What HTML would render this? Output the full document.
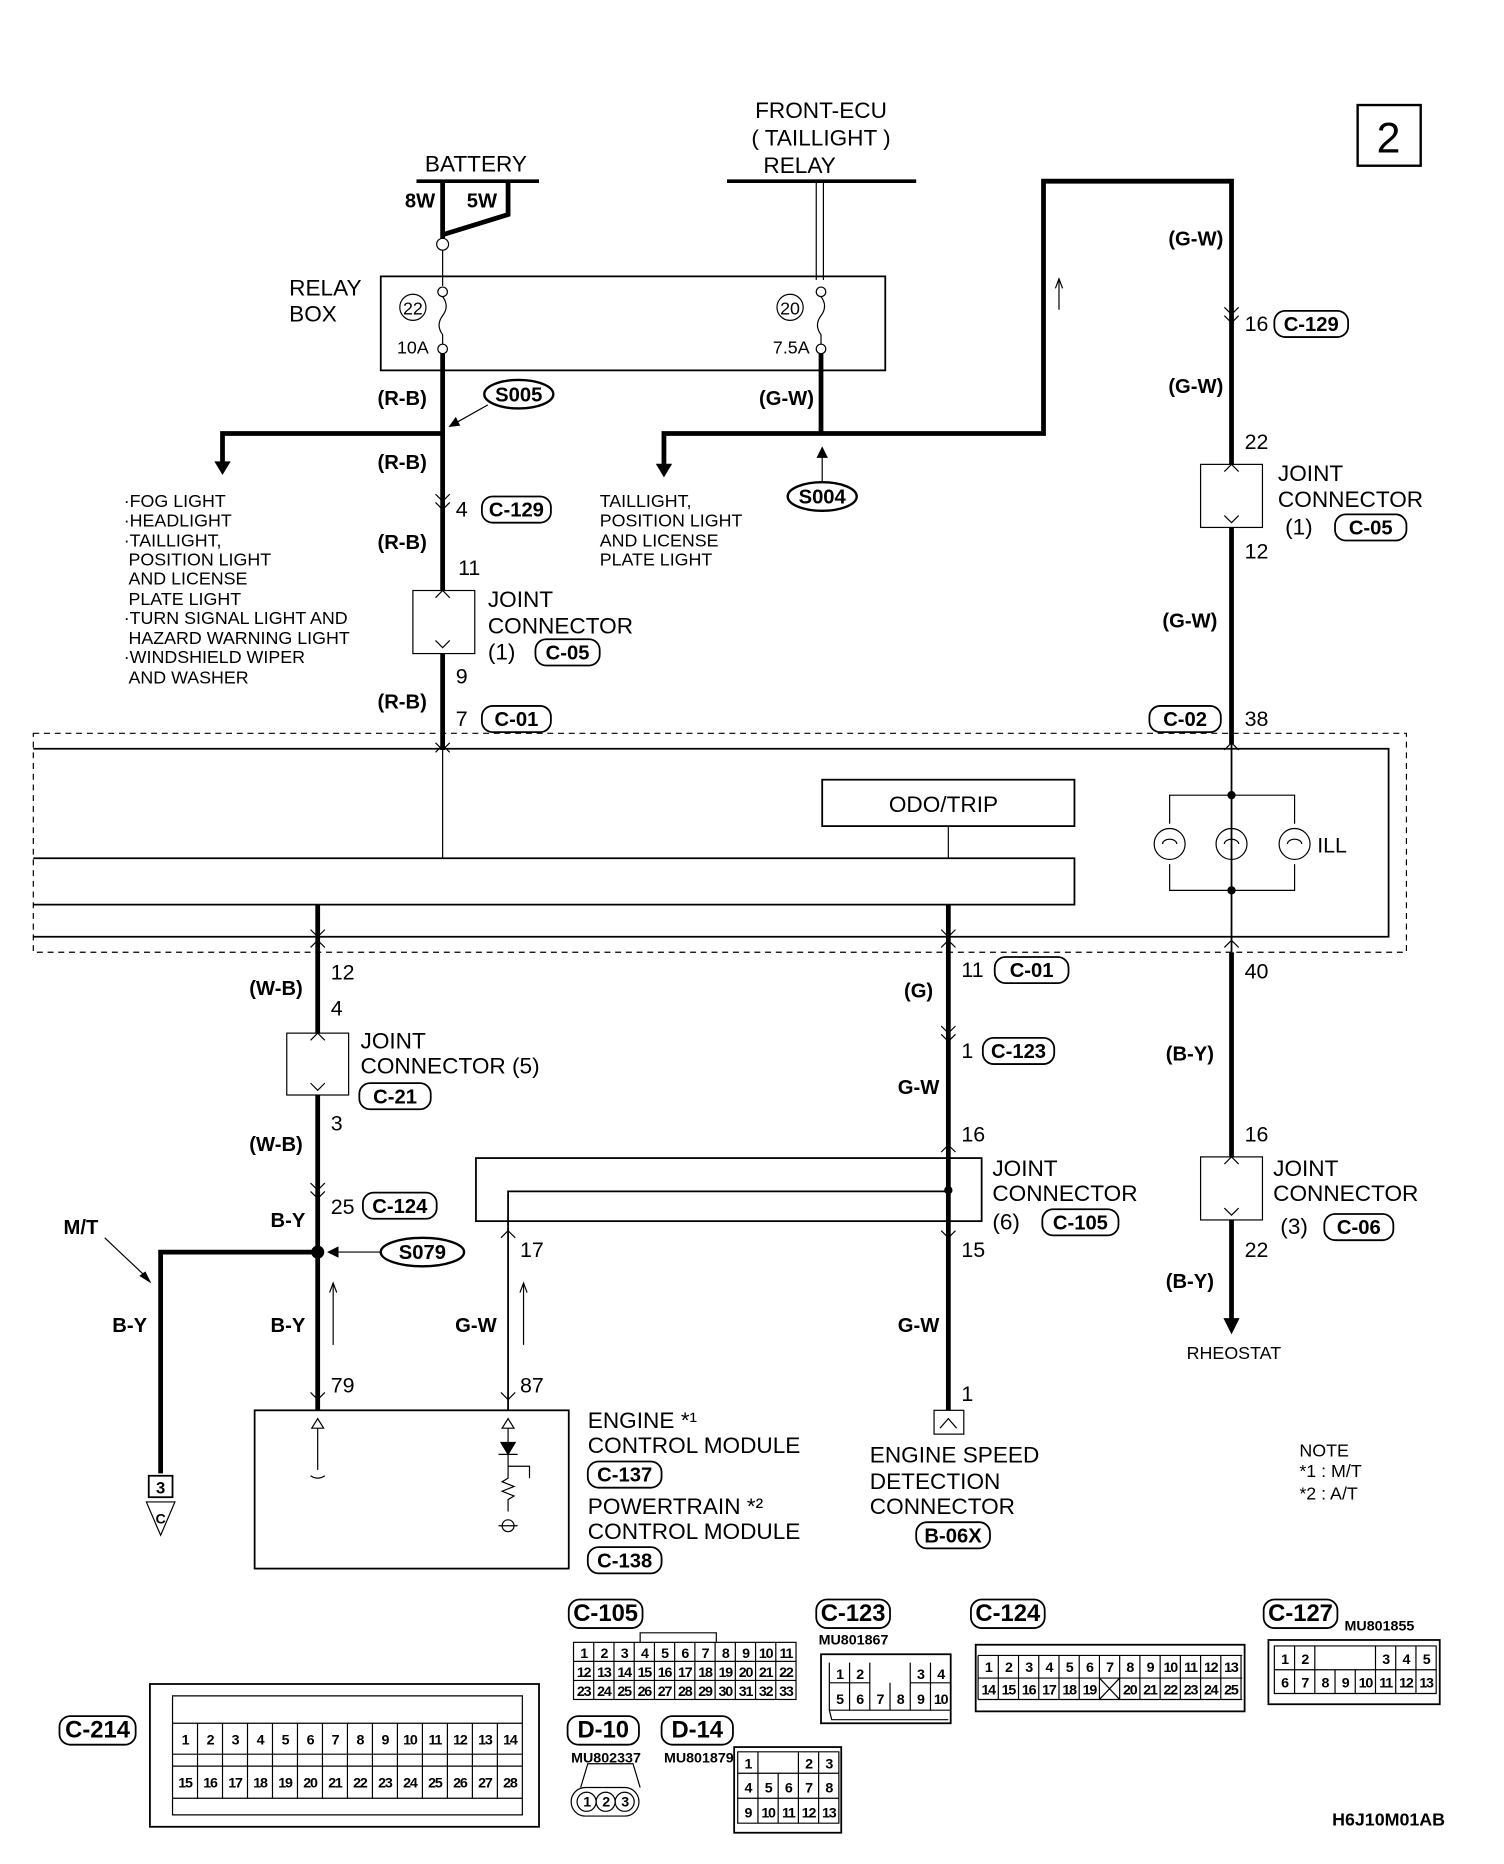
<!DOCTYPE html>
<html><head><meta charset="utf-8"><style>
html,body{margin:0;padding:0;background:#fff}
svg{display:block}
text{font-family:"Liberation Sans",sans-serif;fill:#000}
.t{font-size:19px}
.b{font-size:17px;font-weight:bold}
.s{font-size:15px}
.c{font-size:12px;font-weight:bold;letter-spacing:-1px}
.k{stroke:#000;fill:none}
</style></head><body>
<svg width="1504" height="1864" viewBox="0 0 1264 1566" xmlns="http://www.w3.org/2000/svg">
<g stroke="#000" fill="none">
<rect x="1141" y="88" width="53" height="51" stroke-width="2"/>
<line x1="350" y1="152" x2="453" y2="152" stroke-width="3"/>
<line x1="611" y1="152" x2="770" y2="152" stroke-width="3"/>
<polyline points="427,152 427,180 372,197" stroke-width="4"/>
<line x1="372" y1="152" x2="372" y2="200" stroke-width="4"/>
<line x1="686" y1="152" x2="686" y2="235"/><line x1="692" y1="152" x2="692" y2="235"/>
<rect x="320" y="232" width="424" height="79" stroke-width="1.5"/>
<line x1="372" y1="210" x2="372" y2="240"/>
<circle cx="372" cy="205" r="5"/><circle cx="372" cy="245" r="4"/><circle cx="372" cy="293" r="4"/>
<path d="M372 249 q6 8 0 16 q-6 8 0 16 l0 8"/>
<circle cx="690" cy="245" r="4"/><circle cx="690" cy="293" r="4"/>
<path d="M690 249 q6 8 0 16 q-6 8 0 16 l0 8"/>
<circle cx="347" cy="258" r="11"/><circle cx="664" cy="258" r="11"/>
<line x1="372" y1="297" x2="372" y2="630" stroke-width="4"/>
<polyline points="372,364 187,364 187,390" stroke-width="4"/>
<path d="M181 388 L187 398 L193 388 Z" fill="#000"/>
<line x1="410" y1="340" x2="378" y2="358"/><path d="M378 358 l8 -1 l-3 -6z" fill="#000"/>
<ellipse cx="436" cy="331" rx="29" ry="12" stroke-width="2"/>
<path d="M366 415 l6 6 l6 -6 M366 422 l6 6 l6 -6"/>
<rect x="347" y="496" width="52" height="53" fill="#fff"/>
<path d="M366 502 l6 -6 l6 6 M366 538 l6 6 l6 -6"/>
<path d="M366 632 l6 -6 l6 6 M366 624 l6 6 l6 -6"/>
<line x1="690" y1="297" x2="690" y2="364" stroke-width="4"/>
<polyline points="690,364 558,364 558,392" stroke-width="4"/>
<path d="M552 390 L558 400 L564 390 Z" fill="#000"/>
<polyline points="690,364 877,364 877,152 1035,152 1035,625" stroke-width="4"/>
<line x1="691" y1="404" x2="691" y2="378"/><path d="M687 384 l4 -8 l4 8z" fill="#000"/>
<ellipse cx="691" cy="417" rx="29" ry="12" stroke-width="2"/>
<line x1="890" y1="260" x2="890" y2="235"/><path d="M887 242 l3 -8 l3 8" />
<path d="M1029 258 l6 6 l6 -6 M1029 265 l6 6 l6 -6"/>
<rect x="1009" y="390" width="52" height="53" fill="#fff"/>
<path d="M1029 396 l6 -6 l6 6 M1029 433 l6 6 l6 -6"/>
<path d="M1029 630 l6 -6 l6 6"/>
<rect x="28" y="616" width="1154" height="184" stroke-dasharray="5,4"/>
<polyline points="28,629 1167,629 1167,787 28,787" stroke-width="1.5"/>
<rect x="691" y="655" width="212" height="39" stroke-width="1.5"/>
<polyline points="28,721 903,721 903,760 28,760" stroke-width="1.5"/>
<line x1="797" y1="694" x2="797" y2="721"/>
<line x1="372" y1="630" x2="372" y2="721"/>
<polyline points="983,692 983,668 1088,668 1088,692"/>
<polyline points="983,726 983,748 1088,748 1088,726"/>
<line x1="1035" y1="625" x2="1035" y2="800" stroke-width="1.5"/>
<circle cx="983" cy="709" r="13"/><circle cx="1035" cy="709" r="13"/><circle cx="1088" cy="709" r="13"/>
<path d="M977 709 a6 4 0 0 1 12 0 M1029 709 a6 4 0 0 1 12 0 M1082 709 a6 4 0 0 1 12 0"/>
<circle cx="1035" cy="668" r="3" fill="#000"/><circle cx="1035" cy="748" r="3" fill="#000"/>
<line x1="267" y1="760" x2="267" y2="1185" stroke-width="4"/>
<path d="M261 781 l6 6 l6 -6"/><path d="M261 796 l6 -6 l6 6"/>
<rect x="241" y="868" width="52" height="52" fill="#fff"/>
<path d="M261 874 l6 -6 l6 6 M261 910 l6 6 l6 -6"/>
<path d="M261 994 l6 6 l6 -6 M261 1001 l6 6 l6 -6"/>
<circle cx="267" cy="1052" r="5" fill="#000"/>
<polyline points="267,1052 135,1052 135,1238" stroke-width="4"/>
<line x1="320" y1="1052" x2="278" y2="1052"/><path d="M284 1048 l-8 4 l8 4z" fill="#000"/>
<ellipse cx="355" cy="1052" rx="35" ry="12" stroke-width="2"/>
<line x1="88" y1="1040" x2="124" y2="1074"/><path d="M118 1072 l8 5 l-4 -8z" fill="#000"/>
<rect x="125" y="1240" width="20" height="18" stroke-width="1.5"/>
<path d="M123 1262 L135 1290 L147 1262 Z"/>
<line x1="280" y1="1130" x2="280" y2="1078"/><path d="M277 1086 l3 -8 l3 8"/>
<path d="M261 1170 l6 6 l6 -6"/>
<rect x="400" y="973" width="425" height="53" stroke-width="1.5"/>
<polyline points="427,1185 427,1001 797,1001" stroke-width="1.5"/>
<path d="M421 1040 l6 -6 l6 6"/>
<line x1="440" y1="1130" x2="440" y2="1078"/><path d="M437 1086 l3 -8 l3 8"/>
<path d="M421 1170 l6 6 l6 -6"/>
<line x1="797" y1="760" x2="797" y2="1185" stroke-width="4"/>
<path d="M791 781 l6 6 l6 -6 M791 796 l6 -6 l6 6"/>
<path d="M791 862 l6 6 l6 -6 M791 869 l6 6 l6 -6"/>
<path d="M791 968 l6 -6 l6 6 M791 1034 l6 6 l6 -6"/>
<circle cx="797" cy="1000" r="3" fill="#000"/>
<rect x="785" y="1185" width="25" height="20"/><path d="M790 1200 l7 -8 l7 8"/>
<line x1="1035" y1="800" x2="1035" y2="1110" stroke-width="4"/>
<path d="M1029 796 l6 -6 l6 6"/>
<rect x="1009" y="972" width="52" height="53" fill="#fff"/>
<path d="M1029 978 l6 -6 l6 6 M1029 1015 l6 6 l6 -6"/>
<path d="M1029 1108 L1035 1120 L1041 1108 Z" fill="#000"/>
<rect x="214" y="1185" width="264" height="133" stroke-width="1.5"/>
<path d="M262 1200 l5 -8 l5 8z M267 1200 v35 M261 1240 q6 4 12 0"/>
<path d="M422 1200 l5 -8 l5 8z M427 1200 v12"/>
<path d="M419 1222 h16 M421 1212 h12 l-6 10z" fill="#000"/>
<path d="M427 1222 v10 h18 v10 M427 1232 v10 l-5 3 l10 4 l-10 4 l10 4 l-5 3 v10"/>
<circle cx="427" cy="1282" r="5"/><line x1="419" y1="1282" x2="435" y2="1282"/>
<g stroke-width="1.5">
<rect x="405" y="417" width="58" height="22" rx="9"/>
<rect x="450" y="537" width="54" height="22" rx="9"/>
<rect x="405" y="593" width="58" height="22" rx="9"/>
<rect x="1071" y="261" width="62" height="22" rx="9"/>
<rect x="1122" y="432" width="60" height="22" rx="9"/>
<rect x="966" y="593" width="60" height="22" rx="9"/>
<rect x="836" y="804" width="62" height="22" rx="9"/>
<rect x="826" y="872" width="60" height="22" rx="9"/>
<rect x="876" y="1016" width="64" height="22" rx="9"/>
<rect x="1113" y="1020" width="58" height="22" rx="9"/>
<rect x="305" y="1002" width="62" height="22" rx="9"/>
<rect x="302" y="910" width="60" height="22" rx="9"/>
<rect x="494" y="1228" width="62" height="22" rx="9"/>
<rect x="494" y="1300" width="62" height="22" rx="9"/>
<rect x="770" y="1279" width="62" height="22" rx="9"/>
<rect x="478" y="1344" width="62" height="24" rx="9"/>
<rect x="686" y="1344" width="62" height="24" rx="9"/>
<rect x="816" y="1344" width="62" height="24" rx="9"/>
<rect x="1062" y="1344" width="62" height="24" rx="9"/>
<rect x="50" y="1442" width="64" height="24" rx="9"/>
<rect x="477" y="1442" width="60" height="24" rx="9"/>
<rect x="556" y="1442" width="60" height="24" rx="9"/>
</g>
<rect x="482" y="1380" width="187" height="48"/>
<path d="M482 1396h187M482 1412h187M499 1380v48M516 1380v48M533 1380v48M550 1380v48M567 1380v48M584 1380v48M601 1380v48M618 1380v48M635 1380v48M652 1380v48"/>
<path d="M538 1380 v-8 h64 v8"/>
<rect x="690" y="1390" width="109" height="58" stroke-width="1.5"/>
<path d="M697 1397v40h102M697 1414h34M765 1414h34M714 1397v40M731 1397v40M748 1414v23M765 1397v40M782 1397v40M697 1437l2 8h98"/>
<rect x="820" y="1382" width="226" height="56" stroke-width="1.5"/>
<path d="M822 1391h222M822 1410h222M822 1428h222M822 1391v37M1043 1391v37"/>
<path d="M839 1391v37M856 1391v37M873 1391v37M890 1391v37M907 1391v37M924 1391v37M941 1391v37M958 1391v37M975 1391v37M992 1391v37M1009 1391v37M1026 1391v37M924 1410l17 18M941 1410l-17 18"/>
<rect x="1066" y="1378" width="144" height="54" stroke-width="1.5"/>
<path d="M1071 1383h136v40h-136zM1071 1403h136M1088 1383v40M1105 1383v40M1122 1403v20M1139 1403v20M1156 1383v40M1173 1383v40M1190 1383v40"/>
<rect x="126" y="1415" width="327" height="120" stroke-width="1.5"/>
<path d="M145 1425h294v100h-294zM145 1448h294M145 1474h294M145 1484h294M145 1511h294"/>
<path d="M166 1448v63M187 1448v63M208 1448v63M229 1448v63M250 1448v63M271 1448v63M292 1448v63M313 1448v63M334 1448v63M355 1448v63M376 1448v63M397 1448v63M418 1448v63"/>
<rect x="617" y="1468" width="90" height="72" stroke-width="1.5"/>
<path d="M620 1472h85v60h-85zM620 1490h85M620 1511h85M637 1472v60M654 1490v42M671 1472v60M688 1472v60"/>
<path d="M488 1502 l6 -20 h38 l6 20" />
<rect x="480" y="1502" width="57" height="24" rx="12"/>
<circle cx="493" cy="1514" r="8"/><circle cx="509" cy="1514" r="8"/><circle cx="525" cy="1514" r="8"/>
</g>
<text x="1167" y="128" class="t" style="font-size:36px" text-anchor="middle">2</text>
<text x="400" y="144" class="t" text-anchor="middle">BATTERY</text>
<text x="353" y="174" class="b" text-anchor="middle">8W</text>
<text x="405" y="174" class="b" text-anchor="middle">5W</text>
<text x="690" y="99" class="t" text-anchor="middle">FRONT-ECU</text>
<text x="690" y="122" class="t" text-anchor="middle">( TAILLIGHT )</text>
<text x="672" y="145" class="t" text-anchor="middle">RELAY</text>
<text x="243" y="248" class="t">RELAY</text>
<text x="243" y="270" class="t">BOX</text>
<text x="347" y="264" class="s" text-anchor="middle">22</text>
<text x="664" y="264" class="s" text-anchor="middle">20</text>
<text x="347" y="297" class="s" text-anchor="middle">10A</text>
<text x="665" y="297" class="s" text-anchor="middle">7.5A</text>
<g class="b">
<text x="338" y="340" text-anchor="middle">(R-B)</text>
<text x="338" y="394" text-anchor="middle">(R-B)</text>
<text x="338" y="461" text-anchor="middle">(R-B)</text>
<text x="338" y="595" text-anchor="middle">(R-B)</text>
<text x="661" y="340" text-anchor="middle">(G-W)</text>
<text x="1005" y="206" text-anchor="middle">(G-W)</text>
<text x="1005" y="330" text-anchor="middle">(G-W)</text>
<text x="1000" y="527" text-anchor="middle">(G-W)</text>
<text x="436" y="337" text-anchor="middle">S005</text>
<text x="691" y="423" text-anchor="middle">S004</text>
<text x="355" y="1058" text-anchor="middle">S079</text>
<text x="232" y="836" text-anchor="middle">(W-B)</text>
<text x="232" y="967" text-anchor="middle">(W-B)</text>
<text x="242" y="1031" text-anchor="middle">B-Y</text>
<text x="242" y="1119" text-anchor="middle">B-Y</text>
<text x="109" y="1119" text-anchor="middle">B-Y</text>
<text x="68" y="1037" text-anchor="middle">M/T</text>
<text x="400" y="1119" text-anchor="middle">G-W</text>
<text x="772" y="838" text-anchor="middle">(G)</text>
<text x="772" y="919" text-anchor="middle">G-W</text>
<text x="772" y="1119" text-anchor="middle">G-W</text>
<text x="1000" y="891" text-anchor="middle">(B-Y)</text>
<text x="1000" y="1082" text-anchor="middle">(B-Y)</text>
<text x="434" y="434" text-anchor="middle">C-129</text>
<text x="477" y="554" text-anchor="middle">C-05</text>
<text x="434" y="610" text-anchor="middle">C-01</text>
<text x="1102" y="278" text-anchor="middle">C-129</text>
<text x="1152" y="449" text-anchor="middle">C-05</text>
<text x="996" y="610" text-anchor="middle">C-02</text>
<text x="867" y="821" text-anchor="middle">C-01</text>
<text x="856" y="889" text-anchor="middle">C-123</text>
<text x="908" y="1033" text-anchor="middle">C-105</text>
<text x="1142" y="1037" text-anchor="middle">C-06</text>
<text x="336" y="1019" text-anchor="middle">C-124</text>
<text x="332" y="927" text-anchor="middle">C-21</text>
<text x="525" y="1245" text-anchor="middle">C-137</text>
<text x="525" y="1317" text-anchor="middle">C-138</text>
<text x="801" y="1296" text-anchor="middle">B-06X</text>
<text x="509" y="1362" text-anchor="middle" style="font-size:20px">C-105</text>
<text x="717" y="1362" text-anchor="middle" style="font-size:20px">C-123</text>
<text x="847" y="1362" text-anchor="middle" style="font-size:20px">C-124</text>
<text x="1093" y="1362" text-anchor="middle" style="font-size:20px">C-127</text>
<text x="82" y="1460" text-anchor="middle" style="font-size:20px">C-214</text>
<text x="507" y="1460" text-anchor="middle" style="font-size:20px">D-10</text>
<text x="586" y="1460" text-anchor="middle" style="font-size:20px">D-14</text>
<text x="1167" y="1534" text-anchor="middle" style="font-size:15px">H6J10M01AB</text>
</g>
<g class="t" style="font-size:18px">
<text x="383" y="434">4</text><text x="385" y="483">11</text><text x="383" y="574">9</text><text x="383" y="610">7</text>
<text x="1046" y="278">16</text><text x="1046" y="377">22</text><text x="1046" y="469">12</text><text x="1046" y="610">38</text>
<text x="278" y="823">12</text><text x="278" y="853">4</text><text x="278" y="950">3</text><text x="278" y="1020">25</text><text x="278" y="1170">79</text>
<text x="437" y="1056">17</text><text x="437" y="1170">87</text>
<text x="808" y="821">11</text><text x="808" y="889">1</text><text x="808" y="959">16</text><text x="808" y="1056">15</text><text x="808" y="1177">1</text>
<text x="1046" y="822">40</text><text x="1046" y="959">16</text><text x="1046" y="1056">22</text>
<text x="1107" y="716">ILL</text>
</g>
<g class="t">
<text x="410" y="510">JOINT</text><text x="410" y="532">CONNECTOR</text><text x="410" y="554">(1)</text>
<text x="1074" y="404">JOINT</text><text x="1074" y="426">CONNECTOR</text><text x="1080" y="449">(1)</text>
<text x="303" y="881">JOINT</text><text x="303" y="902">CONNECTOR (5)</text>
<text x="834" y="988">JOINT</text><text x="834" y="1009">CONNECTOR</text><text x="834" y="1033">(6)</text>
<text x="1070" y="988">JOINT</text><text x="1070" y="1009">CONNECTOR</text><text x="1076" y="1037">(3)</text>
<text x="747" y="682">ODO/TRIP</text>
<text x="494" y="1200">ENGINE *¹</text><text x="494" y="1221">CONTROL MODULE</text>
<text x="494" y="1272">POWERTRAIN *²</text><text x="494" y="1293">CONTROL MODULE</text>
<text x="731" y="1229">ENGINE SPEED</text><text x="731" y="1251">DETECTION</text><text x="731" y="1272">CONNECTOR</text>
</g>
<g class="s">
<text x="104" y="426">·FOG LIGHT</text><text x="104" y="442">·HEADLIGHT</text><text x="104" y="459">·TAILLIGHT,</text>
<text x="108" y="475">POSITION LIGHT</text><text x="108" y="491">AND LICENSE</text><text x="108" y="508">PLATE LIGHT</text>
<text x="104" y="524">·TURN SIGNAL LIGHT AND</text><text x="108" y="541">HAZARD WARNING LIGHT</text>
<text x="104" y="557">·WINDSHIELD WIPER</text><text x="108" y="574">AND WASHER</text>
<text x="504" y="426">TAILLIGHT,</text><text x="504" y="442">POSITION LIGHT</text><text x="504" y="459">AND LICENSE</text><text x="504" y="475">PLATE LIGHT</text>
<text x="1037" y="1142" text-anchor="middle">RHEOSTAT</text>
<text x="1092" y="1224">NOTE</text><text x="1092" y="1241">*1 : M/T</text><text x="1092" y="1260">*2 : A/T</text>
</g>
<text x="135" y="1255" class="b" text-anchor="middle" style="font-size:14px">3</text>
<text x="135" y="1280" class="b" text-anchor="middle" style="font-size:12px">C</text>
<g class="c" style="letter-spacing:0">
<text x="688" y="1382">MU801867</text><text x="1130" y="1370">MU801855</text>
<text x="480" y="1481">MU802337</text><text x="558" y="1481">MU801879</text>
</g>
<g class="c" text-anchor="middle">
<text x="490.5" y="1393">1</text><text x="507.5" y="1393">2</text><text x="524.5" y="1393">3</text><text x="541.5" y="1393">4</text><text x="558.5" y="1393">5</text><text x="575.5" y="1393">6</text><text x="592.5" y="1393">7</text><text x="609.5" y="1393">8</text><text x="626.5" y="1393">9</text><text x="643.5" y="1393">10</text><text x="660.5" y="1393">11</text>
<text x="490.5" y="1409">12</text><text x="507.5" y="1409">13</text><text x="524.5" y="1409">14</text><text x="541.5" y="1409">15</text><text x="558.5" y="1409">16</text><text x="575.5" y="1409">17</text><text x="592.5" y="1409">18</text><text x="609.5" y="1409">19</text><text x="626.5" y="1409">20</text><text x="643.5" y="1409">21</text><text x="660.5" y="1409">22</text>
<text x="490.5" y="1425">23</text><text x="507.5" y="1425">24</text><text x="524.5" y="1425">25</text><text x="541.5" y="1425">26</text><text x="558.5" y="1425">27</text><text x="575.5" y="1425">28</text><text x="592.5" y="1425">29</text><text x="609.5" y="1425">30</text><text x="626.5" y="1425">31</text><text x="643.5" y="1425">32</text><text x="660.5" y="1425">33</text>
<text x="705.5" y="1411">1</text><text x="722.5" y="1411">2</text><text x="773.5" y="1411">3</text><text x="790.5" y="1411">4</text>
<text x="705.5" y="1432">5</text><text x="722.5" y="1432">6</text><text x="739.5" y="1432">7</text><text x="756.5" y="1432">8</text><text x="773.5" y="1432">9</text><text x="790.5" y="1432">10</text>
<text x="830.5" y="1405">1</text><text x="847.5" y="1405">2</text><text x="864.5" y="1405">3</text><text x="881.5" y="1405">4</text><text x="898.5" y="1405">5</text><text x="915.5" y="1405">6</text><text x="932.5" y="1405">7</text><text x="949.5" y="1405">8</text><text x="966.5" y="1405">9</text><text x="983.5" y="1405">10</text><text x="1000.5" y="1405">11</text><text x="1017.5" y="1405">12</text><text x="1034.5" y="1405">13</text>
<text x="830.5" y="1424">14</text><text x="847.5" y="1424">15</text><text x="864.5" y="1424">16</text><text x="881.5" y="1424">17</text><text x="898.5" y="1424">18</text><text x="915.5" y="1424">19</text><text x="949.5" y="1424">20</text><text x="966.5" y="1424">21</text><text x="983.5" y="1424">22</text><text x="1000.5" y="1424">23</text><text x="1017.5" y="1424">24</text><text x="1034.5" y="1424">25</text>
<text x="1079.5" y="1398">1</text><text x="1096.5" y="1398">2</text><text x="1164.5" y="1398">3</text><text x="1181.5" y="1398">4</text><text x="1198.5" y="1398">5</text>
<text x="1079.5" y="1418">6</text><text x="1096.5" y="1418">7</text><text x="1113.5" y="1418">8</text><text x="1130.5" y="1418">9</text><text x="1147.5" y="1418">10</text><text x="1164.5" y="1418">11</text><text x="1181.5" y="1418">12</text><text x="1198.5" y="1418">13</text>
<text x="628.5" y="1486">1</text><text x="679.5" y="1486">2</text><text x="696.5" y="1486">3</text>
<text x="628.5" y="1506">4</text><text x="645.5" y="1506">5</text><text x="662.5" y="1506">6</text><text x="679.5" y="1506">7</text><text x="696.5" y="1506">8</text>
<text x="628.5" y="1527">9</text><text x="645.5" y="1527">10</text><text x="662.5" y="1527">11</text><text x="679.5" y="1527">12</text><text x="696.5" y="1527">13</text>
<text x="493" y="1518">1</text><text x="509" y="1518">2</text><text x="525" y="1518">3</text>
<text x="155.5" y="1466">1</text><text x="176.5" y="1466">2</text><text x="197.5" y="1466">3</text><text x="218.5" y="1466">4</text><text x="239.5" y="1466">5</text><text x="260.5" y="1466">6</text><text x="281.5" y="1466">7</text><text x="302.5" y="1466">8</text><text x="323.5" y="1466">9</text><text x="344.5" y="1466">10</text><text x="365.5" y="1466">11</text><text x="386.5" y="1466">12</text><text x="407.5" y="1466">13</text><text x="428.5" y="1466">14</text>
<text x="155.5" y="1502">15</text><text x="176.5" y="1502">16</text><text x="197.5" y="1502">17</text><text x="218.5" y="1502">18</text><text x="239.5" y="1502">19</text><text x="260.5" y="1502">20</text><text x="281.5" y="1502">21</text><text x="302.5" y="1502">22</text><text x="323.5" y="1502">23</text><text x="344.5" y="1502">24</text><text x="365.5" y="1502">25</text><text x="386.5" y="1502">26</text><text x="407.5" y="1502">27</text><text x="428.5" y="1502">28</text>
</g>
</svg>
</body></html>
